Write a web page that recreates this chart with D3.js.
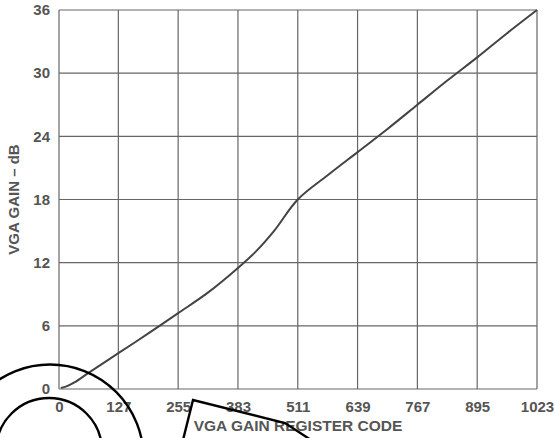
<!DOCTYPE html>
<meta charset="utf-8">
<style>
body { margin: 0; background: #fff; }
text { font-family: "Liberation Sans", Arial, sans-serif; font-weight: bold; fill: #555; }
.grid line { stroke: #666; stroke-width: 1.2; }
.axis path, .axis line { display: none; }
</style>
<svg></svg>
<script src="https://d3js.org/d3.v7.min.js"></script>
<script>
// register code vs gain (dB)
var codes = [4, 16, 32, 64, 127, 192, 255, 320, 383, 420, 460, 511, 575, 639, 703, 767, 831, 895, 959, 1023];
var gains = [0.1, 0.25, 0.6, 1.55, 3.4, 5.3, 7.2, 9.2, 11.5, 13.0, 15.0, 18.0, 20.3, 22.5, 24.7, 27.0, 29.3, 31.5, 33.8, 36.0];
var xTicks = [0, 127, 255, 383, 511, 639, 767, 895, 1023];
var yTicks = [0, 6, 12, 18, 24, 30, 36];

var W = 555, H = 438,
    margin = {top: 10, right: 18, bottom: 49, left: 59},
    width = W - margin.left - margin.right,
    height = H - margin.top - margin.bottom;

var svg = d3.select("svg").attr("width", W).attr("height", H);
var g = svg.append("g").attr("transform", "translate(" + margin.left + "," + margin.top + ")");

var x = d3.scaleLinear().domain([0, 1023]).range([0, width]),
    y = d3.scaleLinear().domain([0, 36]).range([height, 0]);

var grid = g.append("g").attr("class", "grid");
grid.selectAll(".vx").data(xTicks).enter().append("line")
    .attr("x1", function(d) { return x(d); }).attr("x2", function(d) { return x(d); })
    .attr("y1", 0).attr("y2", height);
grid.selectAll(".hy").data(yTicks).enter().append("line")
    .attr("x1", 0).attr("x2", width)
    .attr("y1", function(d) { return y(d); }).attr("y2", function(d) { return y(d); });

g.append("g")
    .attr("class", "axis")
    .attr("transform", "translate(0," + height + ")")
    .call(d3.axisBottom(x).tickValues(xTicks).tickFormat(d3.format("d")).tickSize(0).tickPadding(12))
    .selectAll("text").style("font-size", "15px");
g.append("g")
    .attr("class", "axis")
    .call(d3.axisLeft(y).tickValues(yTicks).tickSize(0).tickPadding(9))
    .selectAll("text").style("font-size", "15px");

var line = d3.line()
    .x(function(d, i) { return x(codes[i]); })
    .y(function(d) { return y(d); })
    .curve(d3.curveCatmullRom.alpha(0.5));
g.append("path")
    .datum(gains)
    .attr("fill", "none")
    .attr("stroke", "#444")
    .attr("stroke-width", 2)
    .attr("d", line);

g.append("text")
    .attr("x", width / 2)
    .attr("y", height + 42)
    .attr("text-anchor", "middle")
    .style("font-size", "15.5px")
    .text("VGA GAIN REGISTER CODE");
g.append("text")
    .attr("transform", "translate(" + (-40) + "," + (height / 2) + ") rotate(-90)")
    .attr("text-anchor", "middle")
    .style("font-size", "15px")
    .text("VGA GAIN – dB");

// hand-drawn marks over the figure
var ann = svg.append("g").attr("fill", "none").attr("stroke", "#000").attr("stroke-width", 2.4);
ann.append("circle").attr("cx", 50).attr("cy", 458).attr("r", 93.5);
ann.append("circle").attr("cx", 49).attr("cy", 451).attr("r", 53);
ann.append("path").attr("d", "M183,440 L193,400 L285,423 L311,440");
</script>
